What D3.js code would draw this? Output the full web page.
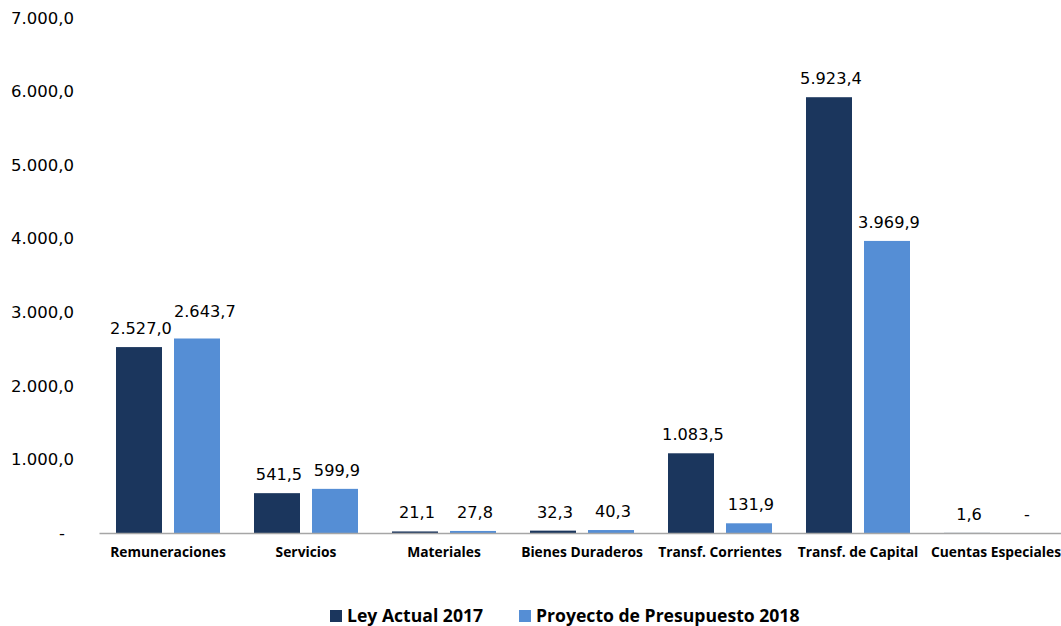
<!DOCTYPE html>
<html>
<head>
<meta charset="utf-8">
<script src="https://cdn.jsdelivr.net/npm/d3@7"></script>
<style>
  body { margin: 0; background: #fff; }
  svg { font-family: "Open Sans", sans-serif; }
</style>
</head>
<body>
<svg width="1061" height="626"></svg>
<script>
const categories = ["Remuneraciones", "Servicios", "Materiales", "Bienes Duraderos",
  "Transf. Corrientes", "Transf. de Capital", "Cuentas Especiales"];
const seriesNames = ["Ley Actual 2017", "Proyecto de Presupuesto 2018"];
const ley2017 = [2527.0, 541.5, 21.1, 32.3, 1083.5, 5923.4, 1.6];
const proyecto2018 = [2643.7, 599.9, 27.8, 40.3, 131.9, 3969.9, 0];
const yTicks = [0, 1000, 2000, 3000, 4000, 5000, 6000, 7000];
const colors = ["#1b365d", "#558ed5"];

const es = d3.formatLocale({ decimal: ",", thousands: ".", grouping: [3], currency: ["", ""] });
const fmt = v => v === 0 ? "-" : es.format(",.1f")(v);

const data = categories.map((c, i) => ({ cat: c, values: [ley2017[i], proyecto2018[i]] }));

const svg = d3.select("svg");

const x = d3.scaleBand().domain(categories).range([99, 1065]);
const xSub = d3.scaleBand().domain([0, 1]).range([0, x.bandwidth()])
  .paddingInner(12 / 58).paddingOuter(17 / 58);
const y = d3.scaleLinear().domain([0, 7000]).range([533, 18]);

const numFont = "DejaVu Sans, sans-serif";

// y tick labels (no axis line, no gridlines)
svg.append("g").selectAll("text")
  .data(yTicks)
  .join("text")
  .attr("x", d => d === 0 ? 65 : 74)
  .attr("y", d => y(d))
  .attr("dy", "0.35em")
  .attr("text-anchor", "end")
  .attr("font-family", numFont)
  .attr("font-size", 16.5)
  .attr("fill", "#000")
  .text(fmt);

// bars
const groups = svg.append("g").selectAll("g")
  .data(data)
  .join("g")
  .attr("transform", d => `translate(${x(d.cat)},0)`);

groups.selectAll("rect")
  .data(d => d.values.map((v, k) => ({ v, k })))
  .join("rect")
  .attr("x", d => xSub(d.k))
  .attr("width", xSub.bandwidth())
  .attr("y", d => y(d.v))
  .attr("height", d => y(0) - y(d.v))
  .attr("fill", d => colors[d.k]);

groups.selectAll("text.val")
  .data(d => d.values.map((v, k) => ({ v, k })))
  .join("text")
  .attr("class", "val")
  .attr("x", d => xSub(d.k) + xSub.bandwidth() / 2 + 2)
  .attr("y", d => y(d.v) - 13)
  .attr("text-anchor", "middle")
  .attr("font-family", numFont)
  .attr("font-size", 16.2)
  .attr("fill", "#000")
  .text(d => fmt(d.v));

// nudge the second label of a pair when the two labels would collide
groups.each(function () {
  const t = d3.select(this).selectAll("text.val").nodes();
  const a = t[0].getBBox(), b = t[1].getBBox();
  const overlapX = a.x + a.width + 2 - b.x;
  const overlapY = Math.abs(a.y - b.y) < a.height;
  if (overlapX > 0 && overlapY) {
    d3.select(t[1])
      .attr("x", +t[1].getAttribute("x") + overlapX)
      .attr("y", +t[1].getAttribute("y") - 8);
  }
});

// x axis
const xAxis = svg.append("g")
  .attr("transform", `translate(0,${y(0)})`)
  .call(d3.axisBottom(x).tickSize(0).tickPadding(0));
xAxis.select(".domain").attr("stroke", "#a6a6a6").attr("stroke-width", 1.5);
xAxis.selectAll(".tick text")
  .attr("y", 24)
  .attr("dy", 0)
  .attr("font-size", 13.8)
  .attr("font-weight", "bold")
  .attr("font-family", "Open Sans, sans-serif")
  .attr("fill", "#000");

// legend
const legend = svg.append("g");
const legendX = [330, 519];
seriesNames.forEach((name, k) => {
  legend.append("rect")
    .attr("x", legendX[k]).attr("y", 610)
    .attr("width", 12).attr("height", 12)
    .attr("fill", colors[k]);
  legend.append("text")
    .attr("x", legendX[k] + 17).attr("y", 622)
    .attr("font-size", 17.6)
    .attr("font-weight", "bold")
    .attr("fill", "#000")
    .text(name);
});
</script>
</body>
</html>
